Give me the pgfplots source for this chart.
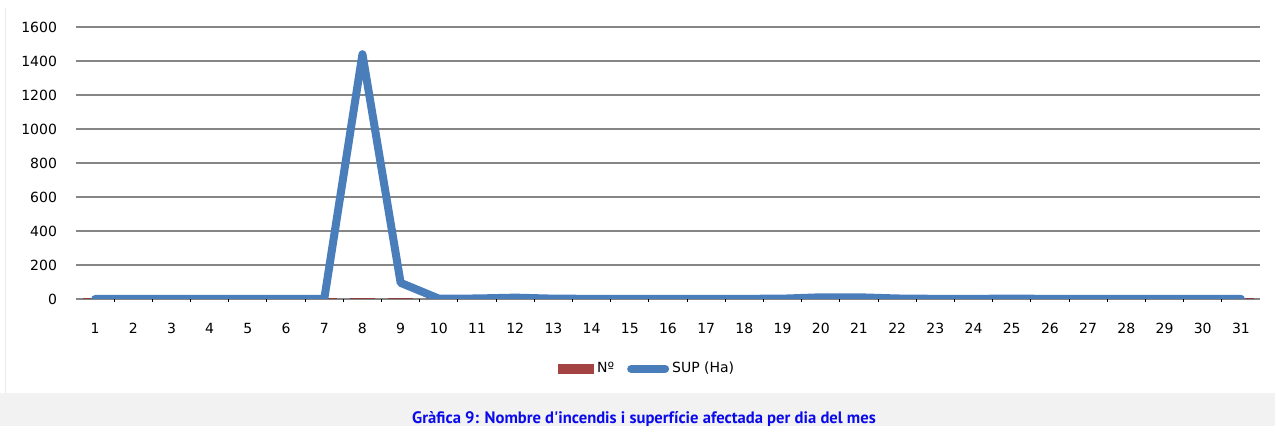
\documentclass[border=0pt]{standalone}
\usepackage{fontspec}
\setmainfont{DejaVu Sans}
\newfontfamily\capfont{PT Sans}
\usepackage{pgfplots}
\pgfplotsset{compat=1.18}
\definecolor{supblue}{RGB}{74,126,187}
\definecolor{nred}{RGB}{192,80,77}
\definecolor{gridgray}{RGB}{134,134,134}
\definecolor{capblue}{RGB}{10,10,235}
\definecolor{bandgray}{RGB}{242,242,242}
\begin{document}
\begin{tikzpicture}[x=1pt,y=1pt]
\useasboundingbox (0,0) rectangle (637.5,213);
\fill[white] (0,0) rectangle (637.5,213);
\fill[bandgray] (0,0) rectangle (637.5,16.5);
\draw[black!8, line width=0.5pt] (2.75,16.5) -- (2.75,209);
\begin{axis}[
  at={(38pt,63.5pt)}, anchor=south west,
  scale only axis, width=592pt, height=136pt,
  xmin=0.5, xmax=31.5, ymin=0, ymax=1600,
  xtick={1,...,31}, minor xtick={1.5,2.5,...,30.5},
  ytick={0,200,...,1600},
  xtick pos=bottom, ytick pos=left,
  major tick length=0pt, minor tick length=1.6pt, tick align=outside,
  minor tick style={black, line width=0.5pt},
  axis line style={draw=none},
  ymajorgrids, major grid style={gridgray, line width=1pt},
  tick label style={font=\fontsize{7}{8}\selectfont},
  /pgf/number format/assume math mode=true,
  /pgf/number format/1000 sep={},
  xticklabel style={yshift=-8.4pt},
  yticklabel style={xshift=-6pt},
  legend columns=2,
  legend style={draw=none, fill=none, inner sep=0pt,
    at={(0.407,-0.257)}, anchor=west,
    font=\fontsize{7}{8}\selectfont,
    nodes={inner xsep=1.5pt, inner ysep=1pt},
    /tikz/every even column/.append style={column sep=5pt}},
]
\addplot[ybar, bar width=12pt, fill=nred, draw=nred!75!black, line width=0.3pt,
  legend image code/.code={\fill[nred] (0pt,-2.2pt) rectangle (17.5pt,2.2pt);
    \fill[nred!40!white] (0.8pt,0.4pt) rectangle (16.7pt,1.4pt);
    \draw[nred!85!black, line width=0.4pt] (0pt,-2.2pt) rectangle (17.5pt,2.2pt);}]
  coordinates {(1,3)(2,2)(3,2)(4,2)(5,2)(6,2)(7,4)(8,5)(9,4)(10,2)(11,2)(12,3)(13,2)(14,2)(15,2)(16,2)(17,2)(18,2)(19,2)(20,3)(21,3)(22,2)(23,2)(24,2)(25,2)(26,2)(27,2)(28,2)(29,2)(30,2)(31,2)};
\addlegendentry{Nº}
\addplot[supblue, line width=4pt, line join=round, line cap=round,
  legend image code/.code={\draw[supblue, line width=4pt, line cap=round] (1pt,0pt) -- (18pt,0pt);}]
  coordinates {(1,0)(2,0)(3,0)(4,0)(5,0)(6,0)(7,0)(8,1440)(9,95)(10,2)(11,3)(12,8)(13,2)(14,1)(15,1)(16,1)(17,1)(18,1)(19,2)(20,10)(21,10)(22,3)(23,1)(24,1)(25,2)(26,1)(27,1)(28,1)(29,1)(30,1)(31,1)};
\addlegendentry{SUP (Ha)}
\end{axis}
\node[anchor=base, inner sep=0pt, text=capblue, font=\capfont\bfseries\fontsize{8.3}{9}\selectfont] at (322,1) {Gràfica 9: Nombre d'incendis i superfície afectada per dia del mes};
\end{tikzpicture}
\end{document}
